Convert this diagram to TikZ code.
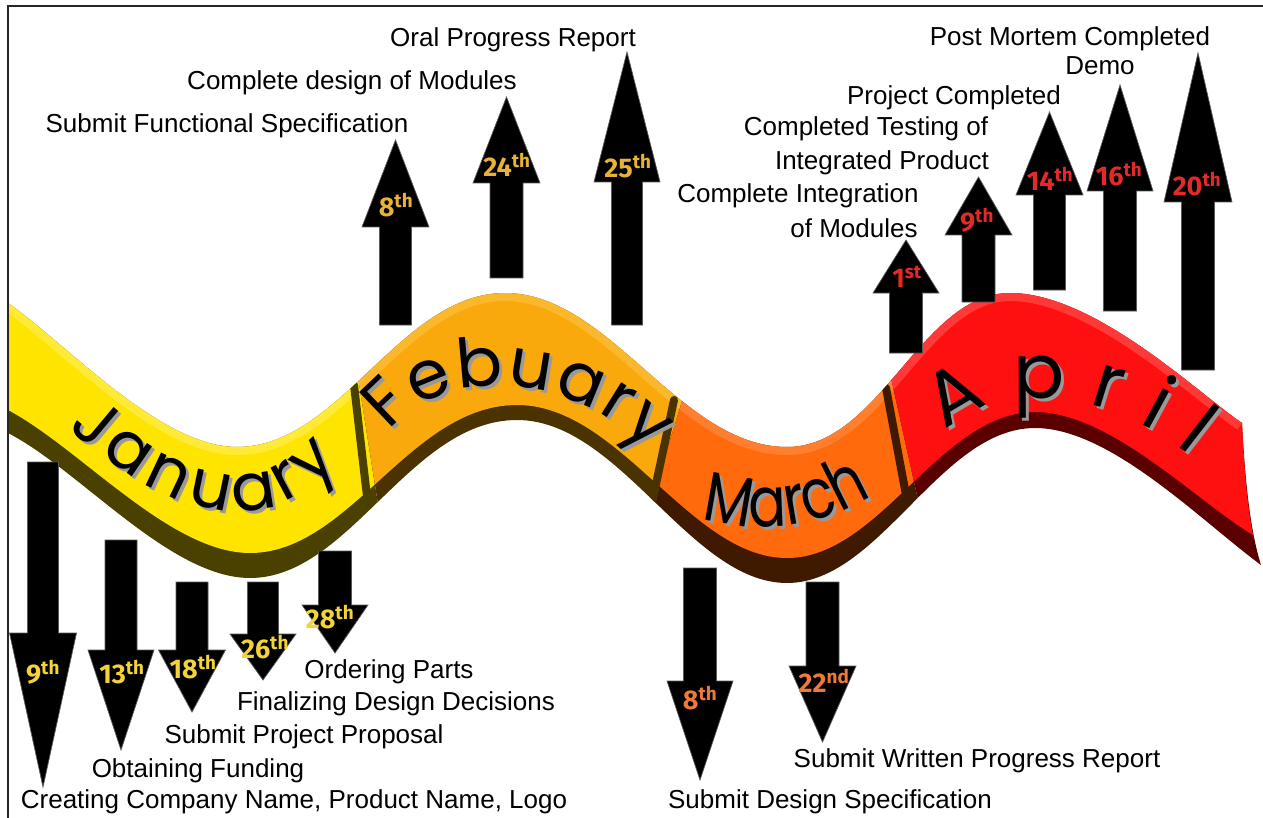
\documentclass[tikz,border=0pt]{standalone}
\usepackage{fontspec}
\setmainfont{Liberation Sans}
\newfontfamily\datefont{Fira Sans}
\newfontfamily\monthfont{Poppins}
\newfontfamily\marchfont[FakeStretch=0.8]{Poppins}
\usetikzlibrary{decorations.text}
\definecolor{janface}{HTML}{FFE400}
\definecolor{janlight}{HTML}{FFF27A}
\definecolor{jandark}{HTML}{4A4000}
\definecolor{febface}{HTML}{F9A90B}
\definecolor{feblight}{HTML}{FFCB55}
\definecolor{febdark}{HTML}{4A3300}
\definecolor{marface}{HTML}{FF6A0D}
\definecolor{marlight}{HTML}{FF9A5A}
\definecolor{mardark}{HTML}{3F1A00}
\definecolor{aprface}{HTML}{FF1010}
\definecolor{aprlight}{HTML}{FF6A6A}
\definecolor{aprdark}{HTML}{5A0000}
\definecolor{jandate}{HTML}{F3D23A}
\definecolor{febdate}{HTML}{E8B236}
\definecolor{mardate}{HTML}{EE7A3A}
\definecolor{aprdate}{HTML}{E52828}
\def\ribbonfull{(8,303) .. controls (68,345) and (160,447) .. (237,447) .. controls (340,447) and (400,293) .. (505,293) .. controls (610,293) and (680,447) .. (787,447) .. controls (880,447) and (921,293) .. (1010,293) .. controls (1095,293) and (1200,395) .. (1242,423) .. controls (1245,480) and (1250,530) .. (1261,565) .. controls (1200,520) and (1110,428) .. (1035,428) .. controls (940,428) and (880,583) .. (787,583) .. controls (690,583) and (620,420) .. (517,420) .. controls (410,420) and (350,578) .. (250,578) .. controls (170,578) and (80,470) .. (8,433) -- cycle}
\def\ribbonface{(8,303) .. controls (68,345) and (160,447) .. (237,447) .. controls (340,447) and (400,293) .. (505,293) .. controls (610,293) and (680,447) .. (787,447) .. controls (880,447) and (921,293) .. (1010,293) .. controls (1095,293) and (1200,395) .. (1242,423) .. controls (1244,465) and (1247,505) .. (1253,535) .. controls (1195,500) and (1110,412) .. (1035,412) .. controls (940,412) and (880,558) .. (787,558) .. controls (690,558) and (620,405) .. (517,405) .. controls (410,405) and (350,553) .. (250,553) .. controls (170,553) and (80,448) .. (8,410) -- cycle}
\def\ribbontop{(8,303) .. controls (68,345) and (160,447) .. (237,447) .. controls (340,447) and (400,293) .. (505,293) .. controls (610,293) and (680,447) .. (787,447) .. controls (880,447) and (921,293) .. (1010,293) .. controls (1095,293) and (1200,395) .. (1242,423)}
\newcommand\arrowpoly[6]{%
  \path[arrowshape] ({#1},{#2}) -- ({#1+#4},{#3}) -- ({#1+#5},{#3}) -- ({#1+#5},{#6}) -- ({#1-#5},{#6}) -- ({#1-#5},{#3}) -- ({#1-#4},{#3}) -- cycle;}
\newcommand\monthseg[4]{% clip polygon, face, light, dark
  \begin{scope}
    \clip #1;
    \fill[#4] \ribbonfull;
    \fill[#2] \ribbonface;
    \begin{scope}
      \clip \ribbonface;
      \draw[line width=16, #3, opacity=0.45] \ribbontop;
    \end{scope}
  \end{scope}}
\newcommand\monthname[4]{% font, text, shadow path, path
  \path[decorate, decoration={text along path, text color=black!40, text align={fit to path},
    text={|#1|#2}}] #3;
  \path[decorate, decoration={text along path, text color=black, text align={fit to path},
    text={|#1|#2}}] #4;}
\tikzset{
  lbl/.style={font=\fontsize{26}{26}\selectfont, anchor=base, inner sep=0pt, text=black},
  datelbl/.style={font=\datefont\bfseries\fontsize{27}{27}\selectfont, inner sep=0pt},
  arrowshape/.style={fill=black, draw=black!65, line width=0.7},
  sepline/.style={line width=8, line cap=round},
  frameline/.style={line width=1.6, draw=black!85},
}
\begin{document}
\begin{tikzpicture}[x=1pt, y=-1pt]
\useasboundingbox (0,0) rectangle (1263,818);
\fill[white] (0,0) rectangle (1263,818);

% ---- ribbon ----
\monthseg{(-10,250) -- (338,250) -- (401,650) -- (-10,650) -- cycle}{janface}{janlight}{jandark}
\monthseg{(338,250) -- (729,250) -- (605,650) -- (401,650) -- cycle}{febface}{feblight}{febdark}
\monthseg{(729,250) -- (863,250) -- (951,650) -- (605,650) -- cycle}{marface}{marlight}{mardark}
\monthseg{(863,250) -- (1300,250) -- (1300,650) -- (951,650) -- cycle}{aprface}{aprlight}{aprdark}
\begin{scope}
  \clip \ribbonfull;
  \draw[sepline, jandark] (354,385) -- (368,505);
  \draw[sepline, febdark] (674,400) -- (650,512);
  \draw[sepline, mardark] (886,388) -- (906,495);
\end{scope}

% ---- month names ----
\monthname{\monthfont\fontsize{66}{66}\selectfont}{January}
  {(71,431) .. controls (143,495) and (253,563) .. (341,465)}
  {(68,428) .. controls (140,492) and (250,560) .. (338,462)}
\monthname{\monthfont\fontsize{68}{68}\selectfont}{Febuary}
  {(393,435) .. controls (435,375) and (563,365) .. (653,455)}
  {(390,432) .. controls (432,372) and (560,362) .. (650,452)}
\monthname{\marchfont\fontsize{70}{70}\selectfont}{March}
  {(705,521) .. controls (746,536) and (820,534) .. (875,499)}
  {(702,518) .. controls (743,533) and (817,531) .. (872,496)}
\monthname{\monthfont\fontsize{76}{76}\selectfont}{April}
  {(949,435) .. controls (999,385) and (1107,388) .. (1193,459)}
  {(946,432) .. controls (996,382) and (1104,385) .. (1190,456)}

% ---- arrows (cx, tip, head base, head half, shaft half, shaft end) ----
% February (up)
\arrowpoly{395.5}{140}{227}{33.5}{16}{325}
\arrowpoly{506.5}{97}{183}{33.5}{16.5}{278}
\arrowpoly{627}{52}{182}{33}{15.5}{325}
% April (up)
\arrowpoly{906}{240}{293}{33}{16.5}{353}
\arrowpoly{978.5}{177}{235}{33.5}{16.5}{302}
\arrowpoly{1049.5}{112}{195}{33.5}{16}{290}
\arrowpoly{1120}{85}{191}{33}{16.5}{311}
\arrowpoly{1198}{53}{202}{34}{16.5}{370}
% January (down)
\arrowpoly{43}{787}{633}{33.5}{15.5}{462}
\arrowpoly{121}{750}{650}{33}{16}{540}
\arrowpoly{192}{712}{650}{33.5}{16}{582}
\arrowpoly{263}{680}{634}{33}{15.5}{582}
\arrowpoly{335}{653}{605}{33}{16.5}{551}
% March (down)
\arrowpoly{700}{780}{681}{33}{16.5}{568}
\arrowpoly{822.5}{742}{666}{33.5}{16.5}{582}

% ---- dates ----
\node[datelbl, text=jandate] (j9)  at (43,672)  {9\textsuperscript{th}};
\node[datelbl, text=jandate] (j13) at (122,672) {13\textsuperscript{th}};
\node[datelbl, text=jandate] (j18) at (193,667) {18\textsuperscript{th}};
\node[datelbl, text=jandate] (j26) at (265,647) {26\textsuperscript{th}};
\node[datelbl, text=jandate] (j28) at (330,617) {28\textsuperscript{th}};
\node[datelbl, text=febdate] (f8)  at (396,205) {8\textsuperscript{th}};
\node[datelbl, text=febdate] (f24) at (507,165) {24\textsuperscript{th}};
\node[datelbl, text=febdate] (f25) at (628,166) {25\textsuperscript{th}};
\node[datelbl, text=mardate] (m8)  at (700,698) {8\textsuperscript{th}};
\node[datelbl, text=mardate] (m22) at (824,681) {22\textsuperscript{nd}};
\node[datelbl, text=aprdate] (a1)  at (907,277) {1\textsuperscript{st}};
\node[datelbl, text=aprdate] (a9)  at (977,220) {9\textsuperscript{th}};
\node[datelbl, text=aprdate] (a14) at (1050,179) {14\textsuperscript{th}};
\node[datelbl, text=aprdate] (a16) at (1119,174) {16\textsuperscript{th}};
\node[datelbl, text=aprdate] (a20) at (1197,184) {20\textsuperscript{th}};

% ---- labels ----
\node[lbl] (l1)  at (227,133)  {Submit Functional Specification};
\node[lbl] (l2)  at (352,90)   {Complete design of Modules};
\node[lbl] (l3)  at (513,47)   {Oral Progress Report};
\node[lbl] (l4)  at (1070,46)  {Post Mortem Completed};
\node[lbl] (l5)  at (1100,75)  {Demo};
\node[lbl] (l6)  at (954,105)  {Project Completed};
\node[lbl] (l7)  at (866,136)  {Completed Testing of};
\node[lbl] (l8)  at (882,170)  {Integrated Product};
\node[lbl] (l9)  at (798,203)  {Complete Integration};
\node[lbl] (l10) at (854,238)  {of Modules};
\node[lbl] (l11) at (389,678)  {Ordering Parts};
\node[lbl] (l12) at (396,710)  {Finalizing Design Decisions};
\node[lbl] (l13) at (304,743)  {Submit Project Proposal};
\node[lbl] (l14) at (198,777)  {Obtaining Funding};
\node[lbl] (l15) at (294,808)  {Creating Company Name, Product Name, Logo};
\node[lbl] (l16) at (977,767)  {Submit Written Progress Report};
\node[lbl] (l17) at (830,808)  {Submit Design Specification};

% ---- frame ----
\draw[frameline] (8,818) -- (8,6) -- (1263,6);
\end{tikzpicture}
\end{document}
